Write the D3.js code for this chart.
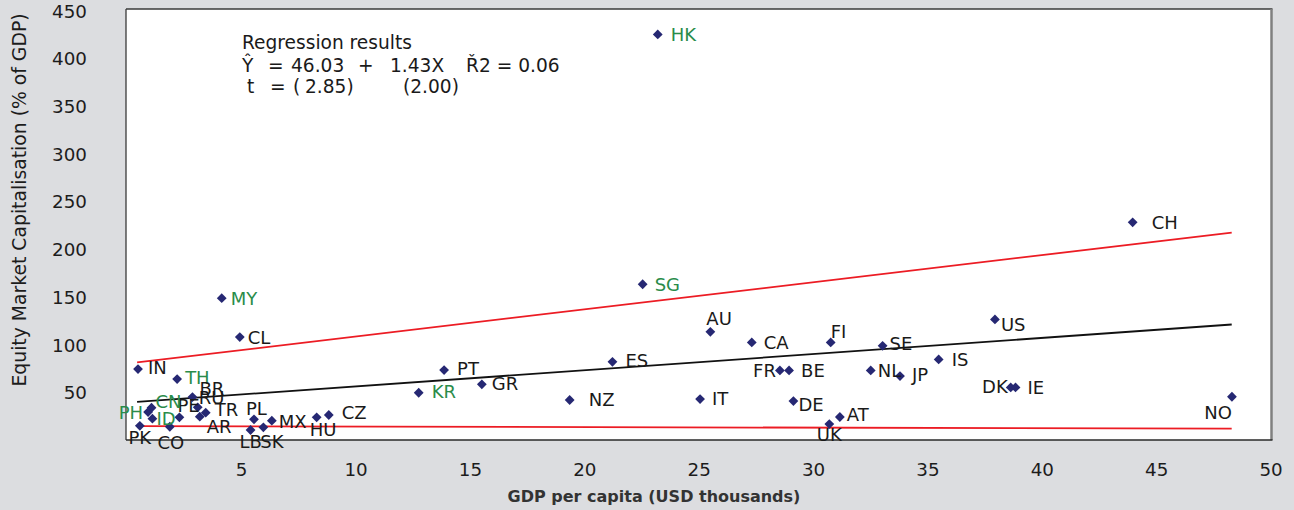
<!DOCTYPE html>
<html>
<head>
<meta charset="utf-8">
<script src="https://cdn.jsdelivr.net/npm/d3@7"></script>
<style>
  html, body { margin: 0; padding: 0; background: #dcdde0; }
  svg { display: block; }
  text { font-family: "DejaVu Sans", Verdana, sans-serif; }
</style>
</head>
<body>
<svg id="chart" width="1294" height="510"></svg>
<script>
// ---------------- DATA ----------------
const countries = ["HK","CH","SG","MY","CL","AU","CA","FI","SE","US","IS","FR","BE","NL","JP","DK","IE",
  "IT","DE","AT","UK","PT","ES","GR","KR","NZ","NO","IN","TH","BR","RU","PE","CN","PH","ID","TR","AR",
  "PK","CO","PL","LB","SK","MX","HU","CZ"];
const gdpPerCapita = [23.21,43.97,22.55,4.15,4.94,25.51,27.32,30.77,33.04,37.95,35.49,28.55,28.95,32.52,33.80,38.64,38.85,
  25.06,29.14,31.17,30.71,13.87,21.23,15.52,12.76,19.36,48.31,0.49,2.20,2.87,3.10,2.30,1.08,0.93,1.12,3.45,3.19,
  0.57,1.88,5.56,5.41,5.97,6.34,8.30,8.83];
const marketCap = [424.9,228.1,163.2,148.6,107.8,113.3,102.2,102.2,98.7,126.3,84.4,72.9,72.9,72.9,67.0,55.1,55.1,
  42.9,40.8,24.1,16.7,73.3,81.9,58.3,49.5,41.9,45.3,74.3,63.8,45.0,34.2,23.8,33.8,29.3,22.3,28.6,24.4,
  14.9,13.9,21.7,10.5,13.3,20.2,23.8,26.2];
const emergingAsia = ["HK","SG","MY","TH","KR","CN","PH","ID"];

const xTicks = [5,10,15,20,25,30,35,40,45,50];
const yTicks = [50,100,150,200,250,300,350,400,450];

// fitted regression line and band (endpoints: GDP per capita, market cap)
const fitLine   = [[0.45, 40.0], [48.3, 121.0]];
const upperBand = [[0.45, 81.3], [48.3, 217.3]];
const lowerBand = [[0.45, 14.5], [48.3, 12.0]];

// ---------------- LAYOUT ----------------
// label placement per country: [dx, dy, anchor]
const labelPlacement = {
  HK:[13,0,"start"], CH:[19,0,"start"], SG:[12,0,"start"], MY:[9,0,"start"], CL:[8,0,"start"],
  AU:[-4,-13,"start"], CA:[12,0,"start"], FI:[0,-11,"start"], SE:[7,-2,"start"], US:[6,5,"start"],
  IS:[13,0,"start"], FR:[-4,0,"end"], BE:[12,0,"start"], NL:[7,0,"start"], JP:[12,-2,"start"],
  DK:[-3,-1,"end"], IE:[12,0,"start"], IT:[12,-1,"start"], DE:[5,3,"start"], AT:[7,-2,"start"],
  UK:[0,10,"middle"], PT:[13,-2,"start"], ES:[13,-1,"start"], GR:[10,-1,"start"], KR:[13,-1,"start"],
  NZ:[19,0,"start"], NO:[0,16,"end"], IN:[10,-2,"start"], TH:[8,-2,"start"], BR:[7,-9,"start"],
  RU:[1,-10,"start"], PE:[-2,-12,"start"], CN:[4,-6,"start"], PH:[-5,0,"end"], ID:[4,0,"start"],
  TR:[9,-3,"start"], AR:[7,10,"start"], PK:[0,12,"middle"], CO:[1,16,"middle"], PL:[-8,-11,"start"],
  LB:[-11,12,"start"], SK:[-3,14,"start"], MX:[7,1,"start"], HU:[-7,12,"start"], CZ:[13,-2,"start"]
};

const W = 1294, H = 510;
const plot = { left: 126, top: 9, right: 1271, bottom: 440 };

const svg = d3.select("#chart");
svg.append("rect").attr("width", W).attr("height", H).attr("fill", "#dcdde0");

const x = d3.scaleLinear().domain([0, 50]).range([126.8, 1270.6]);
const y = d3.scaleLinear().domain([0, 450]).range([440, 10.5]);

// plot area
svg.append("rect")
  .attr("x", plot.left).attr("y", plot.top)
  .attr("width", plot.right - plot.left).attr("height", plot.bottom - plot.top)
  .attr("fill", "#ffffff");

// frame
svg.append("line").attr("x1", plot.left).attr("x2", plot.right + 1.5).attr("y1", plot.top).attr("y2", plot.top)
  .attr("stroke", "#3a3a3a").attr("stroke-width", 1.3);
svg.append("line").attr("x1", plot.right + 0.5).attr("x2", plot.right + 0.5).attr("y1", plot.top).attr("y2", plot.bottom)
  .attr("stroke", "#808080").attr("stroke-width", 2.5);
svg.append("line").attr("x1", plot.left).attr("x2", plot.left).attr("y1", plot.top).attr("y2", plot.bottom)
  .attr("stroke", "#3a3a3a").attr("stroke-width", 1.3);
svg.append("line").attr("x1", plot.left).attr("x2", plot.right + 1.5).attr("y1", plot.bottom).attr("y2", plot.bottom)
  .attr("stroke", "#2a2a2a").attr("stroke-width", 1.5);

// axes (labels only, no tick marks)
const xAxis = d3.axisBottom(x).tickValues(xTicks).tickSize(0).tickPadding(0).tickFormat(d3.format("d"));
const gx = svg.append("g").attr("transform", `translate(0,${plot.bottom})`).call(xAxis);
gx.select(".domain").remove();
gx.selectAll("text").attr("dy", null).attr("y", 36).attr("font-size", 18.3)
  .attr("font-family", "DejaVu Sans").attr("fill", "#1c1c1c");

const yAxis = d3.axisLeft(y).tickValues(yTicks).tickSize(0).tickPadding(0).tickFormat(d3.format("d"));
const gy = svg.append("g").attr("transform", `translate(87,0)`).call(yAxis);
gy.select(".domain").remove();
gy.selectAll("text").attr("x", 0).attr("dy", "0.36em").attr("font-size", 18.3)
  .attr("font-family", "DejaVu Sans").attr("fill", "#1c1c1c");

// axis titles
svg.append("text")
  .attr("transform", "translate(26,200) rotate(-90)")
  .attr("text-anchor", "middle")
  .attr("font-size", 18.8).attr("fill", "#1c1c1c")
  .text("Equity Market Capitalisation (% of GDP)");
svg.append("text")
  .attr("x", 654).attr("y", 502)
  .attr("text-anchor", "middle")
  .attr("font-size", 16).attr("font-weight", "bold").attr("fill", "#333333")
  .text("GDP per capita (USD thousands)");

// lines
const lineGen = d3.line().x(d => x(d[0])).y(d => y(d[1]));
svg.append("path").datum(upperBand).attr("d", lineGen).attr("fill", "none").attr("stroke", "#ec1c24").attr("stroke-width", 1.8);
svg.append("path").datum(lowerBand).attr("d", lineGen).attr("fill", "none").attr("stroke", "#ec1c24").attr("stroke-width", 1.8);
svg.append("path").datum(fitLine).attr("d", lineGen).attr("fill", "none").attr("stroke", "#111111").attr("stroke-width", 1.8);

// points
const points = countries.map((c, i) => ({ name: c, gx: gdpPerCapita[i], mc: marketCap[i] }));
const diamond = d3.symbol().type(d3.symbolSquare).size(48);

svg.append("g").selectAll("path").data(points).join("path")
  .attr("d", diamond)
  .attr("transform", d => `translate(${x(d.gx)},${y(d.mc)}) rotate(45)`)
  .attr("fill", "#262873");

svg.append("g").selectAll("text").data(points).join("text")
  .attr("x", d => x(d.gx) + labelPlacement[d.name][0])
  .attr("y", d => y(d.mc) + labelPlacement[d.name][1])
  .attr("dy", "0.36em")
  .attr("text-anchor", d => labelPlacement[d.name][2])
  .attr("font-size", 18)
  .attr("fill", d => emergingAsia.includes(d.name) ? "#2a8c4a" : "#1a1a1a")
  .text(d => d.name);

// regression annotation
const ann = svg.append("g").attr("font-size", 18.6).attr("fill", "#1a1a1a");
ann.append("text").attr("x", 242).attr("y", 49).text("Regression results");
const line2 = [["Ŷ",242],["=",268],["46.03",291],["+",358],["1.43X",390],["Ř2 = 0.06",466]];
line2.forEach(([t, px]) => ann.append("text").attr("x", px).attr("y", 72).text(t));
const line3 = [["t",247],["=",270],["(",293],["2.85)",305],["(2.00)",403]];
line3.forEach(([t, px]) => ann.append("text").attr("x", px).attr("y", 93).text(t));
</script>
</body>
</html>
